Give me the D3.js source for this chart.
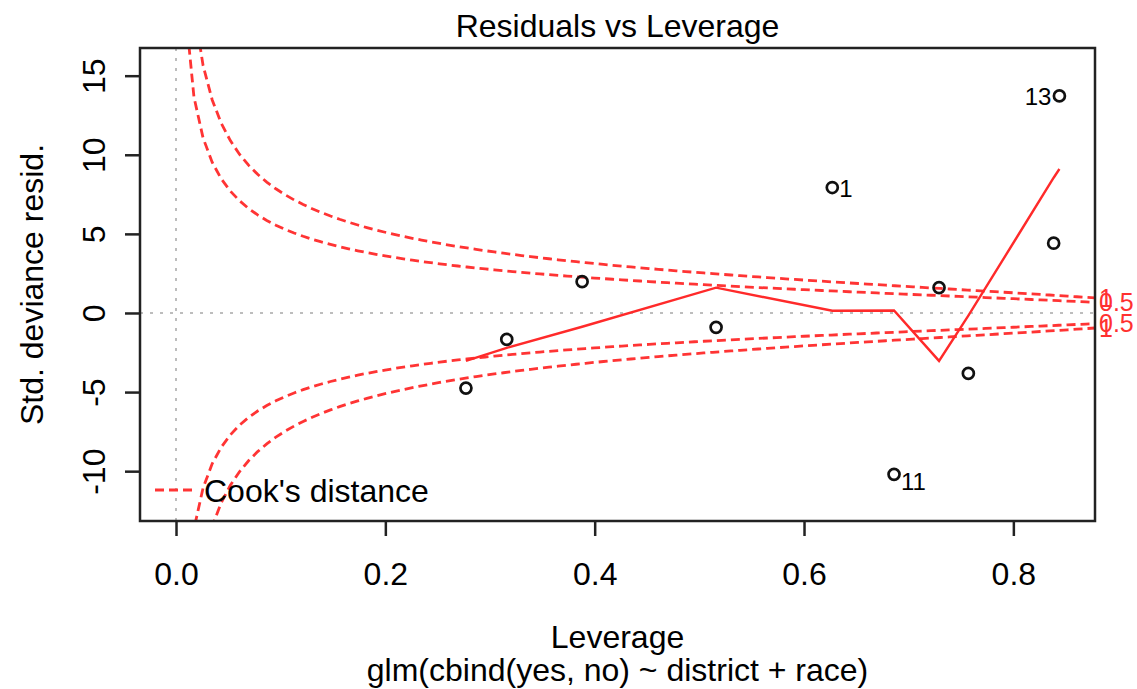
<!DOCTYPE html>
<html>
<head>
<meta charset="utf-8">
<script src="https://cdn.jsdelivr.net/npm/d3@7"></script>
<style>
  body { margin: 0; background: #fff; }
  svg text { font-family: "Liberation Sans", Arial, Helvetica, sans-serif; fill: #000; }
</style>
</head>
<body>
<svg id="chart" width="1137" height="689"></svg>
<script>
// values (hat values vs std. deviance residuals)
const leverage = [0.277, 0.316, 0.388, 0.516, 0.627, 0.686, 0.729, 0.757, 0.8385, 0.844]
const stdResid = [-4.75, -1.67, 1.98, -0.91, 7.93, -10.2, 1.60, -3.82, 4.41, 13.72]
const smoothFit = [-3.03, -2.2, -0.87, 1.60, 0.14, 0.16, -3.03, -0.17, 8.55, 9.1]
const pointIds = ['', '', '', '', '1', '11', '', '', '', '13']

const xTicks = [0, 0.2, 0.4, 0.6, 0.8]
const yTicks = [-10, -5, 0, 5, 10, 15]

const cookLevels = [0.5, 1]
const modelRank = 6.5 // estimated from the contour shape

const xDomain = [-0.0344, 0.878]
const yDomain = [-13.15, 16.75]

const width = 1137
const height = 689
const margin = { top: 48, right: 42, bottom: 168, left: 140 }
const plotW = width - margin.left - margin.right
const plotH = height - margin.top - margin.bottom

const svg = d3.select('#chart')

const x = d3.scaleLinear().domain(xDomain).range([margin.left, margin.left + plotW])
const y = d3.scaleLinear().domain(yDomain).range([margin.top + plotH, margin.top])

svg.append('defs')
  .append('clipPath')
  .attr('id', 'plot-clip')
  .append('rect')
  .attr('x', margin.left)
  .attr('y', margin.top)
  .attr('width', plotW)
  .attr('height', plotH)

const plot = svg.append('g').attr('clip-path', 'url(#plot-clip)')

// dotted reference lines at 0
plot.append('line')
  .attr('x1', x(0)).attr('x2', x(0))
  .attr('y1', margin.top).attr('y2', margin.top + plotH)
  .style('stroke', '#bdbdbd')
  .style('stroke-width', 2)
  .style('stroke-dasharray', '3,7')

plot.append('line')
  .attr('x1', margin.left).attr('x2', margin.left + plotW)
  .attr('y1', y(0)).attr('y2', y(0))
  .style('stroke', '#bdbdbd')
  .style('stroke-width', 2)
  .style('stroke-dasharray', '3,7')

// Cook's distance contours
const hStart = d3.max(leverage) / 100
const hh = d3.range(101).map((i) => hStart + (xDomain[1] - hStart) * i / 100)
const cookLine = d3.line().x((d) => x(d[0])).y((d) => y(d[1]))

cookLevels.forEach((lev) => {
  const upper = hh.map((h) => [h, Math.sqrt(lev * modelRank * (1 - h) / h)])
  const lower = upper.map((d) => [d[0], -d[1]])
  ;[upper, lower].forEach((pts) => {
    plot.append('path')
      .attr('d', cookLine(pts))
      .attr('fill', 'none')
      .style('stroke', '#ff3434')
      .style('stroke-width', 2.8)
      .style('stroke-dasharray', '9,5')
  })
})

// smoother
const order = d3.range(leverage.length).sort((a, b) => leverage[a] - leverage[b])
plot.append('path')
  .attr('d', d3.line()(order.map((i) => [x(leverage[i]), y(smoothFit[i])])))
  .attr('fill', 'none')
  .style('stroke', '#ff2a2a')
  .style('stroke-width', 2.4)

// points
svg.selectAll('.pt')
  .data(leverage)
  .join('circle')
  .attr('class', 'pt')
  .attr('cx', (d) => x(d))
  .attr('cy', (d, i) => y(stdResid[i]))
  .attr('r', 5.5)
  .attr('fill', 'none')
  .style('stroke', '#111')
  .style('stroke-width', 2.7)

svg.selectAll('.pt-label')
  .data(pointIds)
  .join('text')
  .attr('class', 'pt-label')
  .filter((d) => d !== '')
  .attr('x', (d) => {
    const idx = pointIds.indexOf(d)
    return leverage[idx] > 0.8 ? x(leverage[idx]) - 8 : x(leverage[idx]) + 7
  })
  .attr('y', (d) => {
    const idx = pointIds.indexOf(d)
    return y(stdResid[idx]) + (stdResid[idx] < 0 ? 16 : 9)
  })
  .attr('text-anchor', (d) => (leverage[pointIds.indexOf(d)] > 0.8 ? 'end' : 'start'))
  .style('font-size', '24px')
  .text((d) => d)

// frame
svg.append('rect')
  .attr('x', margin.left)
  .attr('y', margin.top)
  .attr('width', plotW)
  .attr('height', plotH)
  .attr('fill', 'none')
  .style('stroke', '#222')
  .style('stroke-width', 2.5)

// axes
const xAxis = svg.append('g')
  .attr('transform', `translate(0,${margin.top + plotH})`)
  .call(d3.axisBottom(x).tickValues(xTicks).tickFormat(d3.format('.1f')).tickSize(15).tickPadding(26).tickSizeOuter(0))
xAxis.select('.domain').remove()
xAxis.selectAll('line').style('stroke', '#222').style('stroke-width', 2.5)
xAxis.selectAll('text').style('font-size', '32px').attr('fill', '#000')

const yAxis = svg.append('g')
  .attr('transform', `translate(${margin.left},0)`)
  .call(d3.axisLeft(y).tickValues(yTicks).tickFormat((d) => (d < 0 ? '-' + Math.abs(d) : d)).tickSize(15).tickSizeOuter(0))
yAxis.select('.domain').remove()
yAxis.selectAll('line').style('stroke', '#222').style('stroke-width', 2.5)
yAxis.selectAll('text')
  .attr('x', null)
  .attr('dy', null)
  .attr('text-anchor', 'middle')
  .attr('transform', 'translate(-35,0) rotate(-90)')
  .style('font-size', '32px')
  .attr('fill', '#000')

// Cook's contour labels in the right margin (they overlap, as in R)
const labelLevels = cookLevels.slice().reverse().map((l) => -l).concat(cookLevels)
svg.selectAll('.cook-label')
  .data(labelLevels)
  .join('text')
  .attr('class', 'cook-label')
  .attr('x', margin.left + plotW + 4)
  .attr('y', (d) => y(Math.sign(d) * Math.sqrt(Math.abs(d) * modelRank * (1 - xDomain[1]) / xDomain[1])))
  .attr('dy', '0.35em')
  .style('font-size', '25px')
  .style('fill', '#ff3030')
  .text((d) => Math.abs(d))

// titles
svg.append('text')
  .attr('x', margin.left + plotW / 2)
  .attr('y', 37)
  .attr('text-anchor', 'middle')
  .style('font-size', '32px')
  .text('Residuals vs Leverage')

svg.append('text')
  .attr('x', margin.left + plotW / 2)
  .attr('y', 648)
  .attr('text-anchor', 'middle')
  .style('font-size', '32px')
  .text('Leverage')

svg.append('text')
  .attr('x', margin.left + plotW / 2)
  .attr('y', 681)
  .attr('text-anchor', 'middle')
  .style('font-size', '32px')
  .text('glm(cbind(yes, no) ~ district + race)')

svg.append('text')
  .attr('transform', `translate(43,${margin.top + plotH / 2}) rotate(-90)`)
  .attr('text-anchor', 'middle')
  .style('font-size', '32px')
  .text('Std. deviance resid.')

// legend
const legend = svg.append('g')
legend.append('line')
  .attr('x1', 155).attr('x2', 196)
  .attr('y1', 490).attr('y2', 490)
  .style('stroke', '#ff3434')
  .style('stroke-width', 2.8)
  .style('stroke-dasharray', '9,5')
legend.append('text')
  .attr('x', 204)
  .attr('y', 502)
  .style('font-size', '32px')
  .text("Cook's distance")
</script>
</body>
</html>
